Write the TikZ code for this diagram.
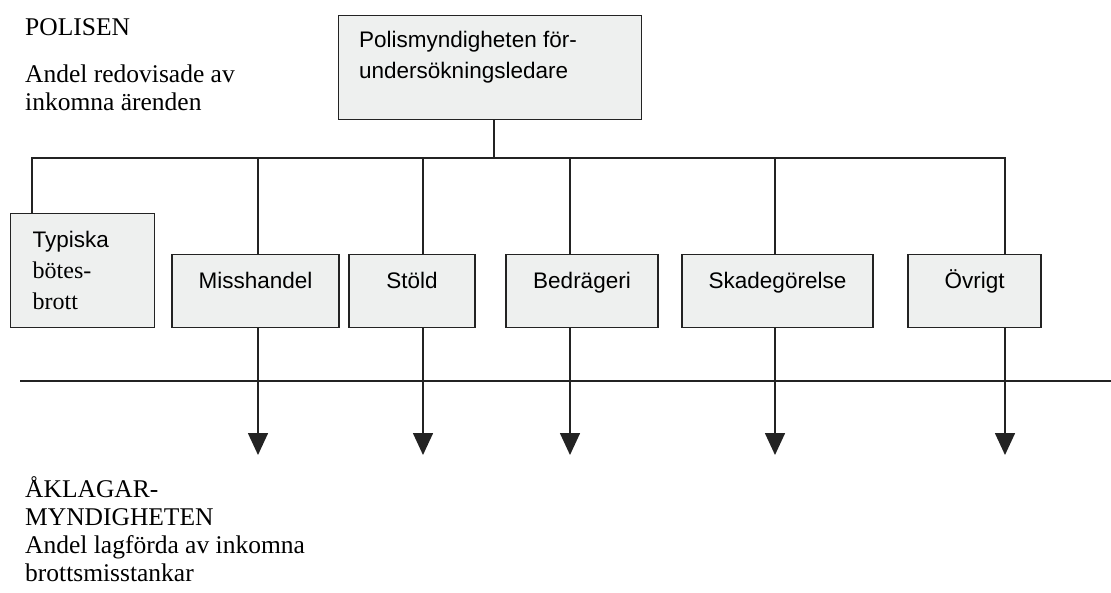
\documentclass[tikz,border=0pt]{standalone}
\usepackage{fontspec}
\setmainfont{Liberation Serif}
\setsansfont{Liberation Sans}
\usepackage{xcolor}
\usetikzlibrary{arrows.meta}
\definecolor{boxgray}{RGB}{238, 240, 239}
\definecolor{linedark}{RGB}{35, 35, 35}

\tikzset{
  unitbox/.style={draw=linedark, line width=1.4pt, fill=boxgray, inner sep=0pt},
  catbox/.style={unitbox, anchor=north, text height=34pt, text depth=39pt,
    font=\sffamily\fontsize{22.5}{31}\selectfont},
  link/.style={draw=linedark, line width=1.6pt},
  flow/.style={link, -{Triangle[width=20pt, length=22pt]}},
  note/.style={inner sep=0pt, align=left, font=\rmfamily\fontsize{25.5}{28}\selectfont}
}

\begin{document}
\begin{tikzpicture}[x=1pt, y=-1pt]
  \useasboundingbox (0,0) rectangle (1111,592);

  % rubriker
  \node[note, anchor=base west] (polis) at (25,35) {POLISEN};
  \node[note, anchor=south west] (polisdesc) at (25,111) {Andel redovisade av\\inkomna ärenden};
  \node[note, anchor=south west] (akl) at (25,582) {ÅKLAGAR-\\MYNDIGHETEN\\Andel lagförda av inkomna\\brottsmisstankar};

  % ledning
  \node[unitbox, anchor=north west, minimum width=303pt, minimum height=104pt] (lead) at (338,15) {};
  \node[anchor=north west, inner sep=0pt, align=left, font=\sffamily\fontsize{22.5}{31}\selectfont]
    (leadtext) at (359,31) {Polismyndigheten för-\\undersökningsledare};

  % brottskategorier
  \node[unitbox, anchor=north west, minimum width=144pt, minimum height=114pt, text width=100pt,
    inner xsep=22pt, align=left, font=\sffamily\fontsize{22.5}{31}\selectfont] (typ) at (10,213)
    {Typiska\\{\rmfamily\fontsize{24}{31}\selectfont bötes-}\\{\rmfamily\fontsize{24}{31}\selectfont brott}};
  \node[catbox, minimum width=167pt] (miss) at (255.5,254) {Misshandel};
  \node[catbox, minimum width=126pt] (stold) at (412,254) {Stöld};
  \node[catbox, minimum width=152pt] (bedr) at (582,254) {Bedrägeri};
  \node[catbox, minimum width=191pt] (skad) at (777.5,254) {Skadegörelse};
  \node[catbox, minimum width=133pt] (ovr) at (974.5,254) {Övrigt};

  \coordinate (hub) at (494,158);
  \coordinate (b0) at (32,158);
  \coordinate (b1) at (258,158);
  \coordinate (b2) at (423,158);
  \coordinate (b3) at (570,158);
  \coordinate (b4) at (775,158);
  \coordinate (b5) at (1005,158);
  \coordinate (tip) at (0,455);
  \coordinate (divw) at (20,381);
  \coordinate (dive) at (1111,381);

  % linjer
  \draw[link] (lead.south -| hub) -- (hub);
  \draw[link] (b0 |- typ.north) -- (b0) -- (b5) -- (b5 |- ovr.north);
  \foreach \b/\n in {b1/miss, b2/stold, b3/bedr, b4/skad} {
    \draw[link] (\b) -- (\b |- \n.north);
  }
  \foreach \b/\n in {b1/miss, b2/stold, b3/bedr, b4/skad, b5/ovr} {
    \draw[flow] (\b |- \n.south) -- (\b |- tip);
  }
  \draw[link] (divw) -- (dive);
\end{tikzpicture}
\end{document}
